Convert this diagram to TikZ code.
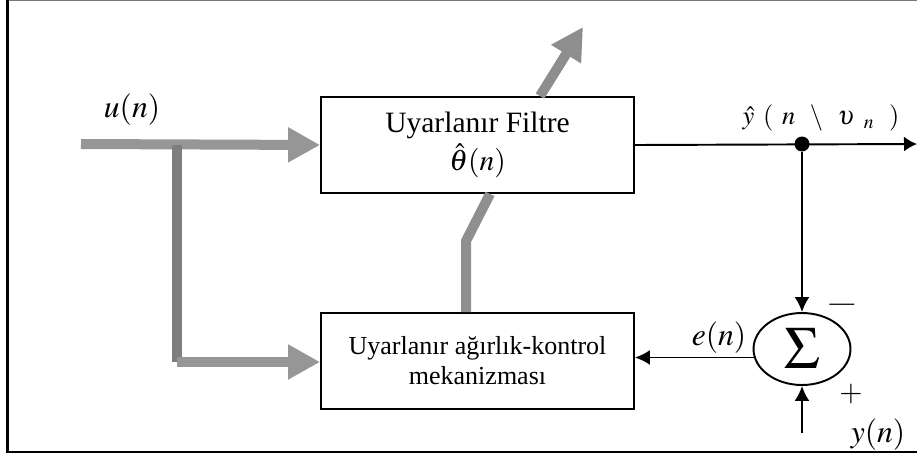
\documentclass[tikz,border=0pt]{standalone}
\usepackage{mathptmx}
\usepackage[no-math]{fontspec}
\setmainfont{Liberation Serif}
\usetikzlibrary{arrows.meta,shapes.geometric}
\definecolor{PipeGray}{RGB}{150,150,150}
\definecolor{PipeDark}{RGB}{126,126,126}
\definecolor{FrameGray}{RGB}{120,120,120}
\tikzset{
	blk/.style={draw=black,line width=1.1pt,fill=white,minimum width=6.26cm,minimum height=1.92cm,
		align=center,inner sep=0pt},
	sumnode/.style={ellipse,draw=black,line width=1.1pt,minimum width=1.94cm,minimum height=1.44cm,inner sep=0pt},
	sig/.style={draw=black,line width=1.1pt,-{Latex[length=0.3cm,width=0.3cm]}},
	pipe/.style={draw=PipeGray,line width=0.2cm,-{Triangle[length=0.64cm,width=0.66cm]}},
	lbl/.style={inner sep=0pt,font=\fontsize{18}{20}\selectfont},
}

\begin{document}
\begin{tikzpicture}[x=0.02cm,y=-0.02cm]
	\useasboundingbox (0,0) rectangle (917,457);
	% frame
	\draw[FrameGray,line width=1pt] (7,0.6) -- (917,0.6);
	\draw[line width=1.2pt] (7.5,0) -- (7.5,452) -- (917,452);
	% blocks
	\node[blk,font=\fontsize{16.8}{21}\selectfont] (fbox) at (477.5,145) {Uyarlanır Filtre\\[1pt]$\hat{\theta}(n)$};
	\node[blk,font=\fontsize{14.8}{17}\selectfont] (wbox) at (477.5,361) {Uyarlanır ağırlık-kontrol\\mekanizması};
	\node[sumnode] (sum) at (802,349) {\fontsize{34}{34}\selectfont$\Sigma$};
	\node[circle,fill=black,minimum size=0.3cm,inner sep=0pt] (tap) at (802,144) {};
	\coordinate (uin) at (81,144);
	\coordinate (br) at (177,145);
	\coordinate (bk) at (177,362);
	\coordinate (yin) at (802,433);
	\coordinate (yout) at (917,144);
	\coordinate (adj) at (583,27);
	\coordinate (kink) at (466,241);
	% thick paths
	\draw[pipe] (uin) -- (fbox.west);
	\draw[PipeDark,line width=0.2cm] (br) -- (bk);
	\draw[pipe] (bk) -- (bk -| wbox.west);
	\draw[PipeGray!95!black,line width=0.2cm,line join=miter] ([xshift=-0.23cm]wbox.north) -- (kink) -- ([xshift=0.25cm]fbox.south);
	\draw[pipe,draw=PipeGray!95!black] ([xshift=1.25cm]fbox.north) -- (adj);
	% signals
	\draw[sig,-{Latex[length=0.26cm,width=0.3cm]}] (fbox.east) -- (yout);
	\draw[sig] (tap) -- (sum.north);
	\draw[sig] (yin) -- (sum.south);
	\draw[sig] (sum.190) -- (sum.190 -| wbox.east);
	% labels
	\node[lbl] (ulbl) at (132,110) {$u(n)$};
	\node[lbl] (elbl) at (719,338) {$e(n)$};
	\node[lbl] (ylbl) at (878,435) {$y(n)$};
	\node[inner sep=0pt,font=\fontsize{15}{15}\selectfont] (yhat) at (821,118)
		{$\hat{y}\;\,(\;\,n\;\;\,\backslash\;\;\,\upsilon\;\,{}_{n}\;\;\,)$};
	\node[inner sep=0pt,font=\fontsize{14}{14}\selectfont] (minus) at (842,307) {—};
	\node[inner sep=0pt,font=\fontsize{17}{17}\selectfont] (plus) at (851,394) {$+$};
\end{tikzpicture}
\end{document}
